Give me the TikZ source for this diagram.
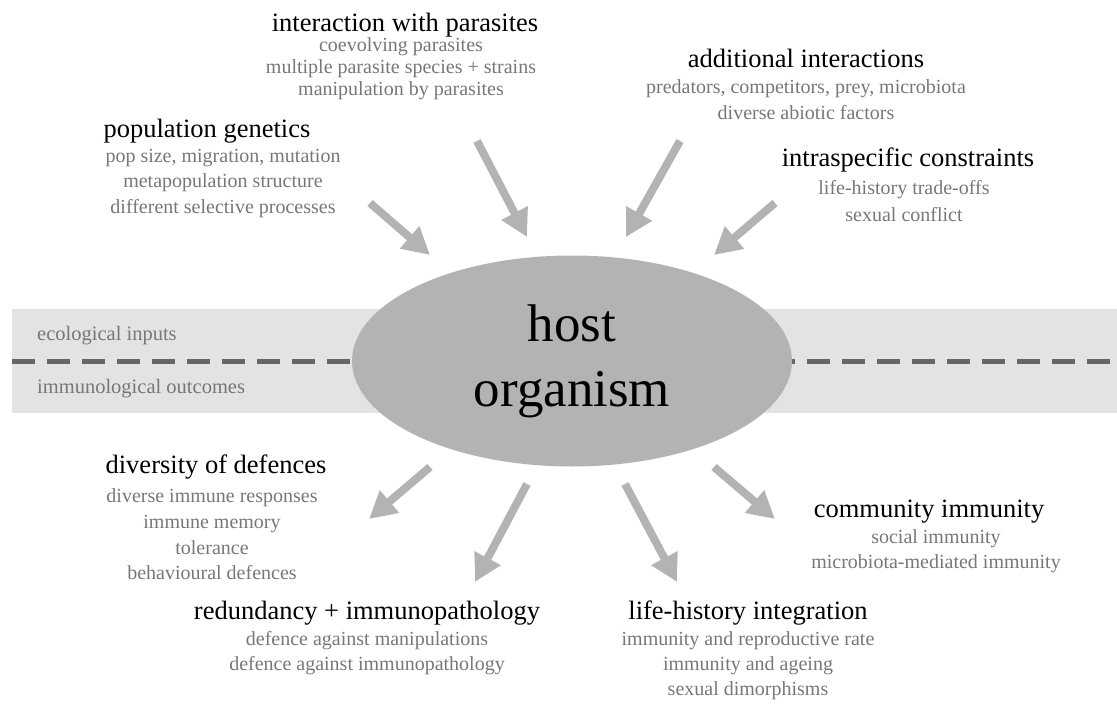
\documentclass[tikz,border=0pt]{standalone}
\usepackage{fontspec}
\setmainfont{Liberation Serif}
\usetikzlibrary{arrows.meta,shapes.geometric}
\definecolor{arrowgray}{HTML}{B3B3B3}
\definecolor{bandgray}{HTML}{E3E3E3}
\definecolor{dashgray}{HTML}{666666}
\definecolor{subgray}{HTML}{777777}
\begin{document}
\begin{tikzpicture}[x=1pt,y=-1pt,
  titletext/.style={font=\fontsize{26.5}{30}\selectfont, text=black, inner sep=0pt},
  subtext/.style={font=\fontsize{20}{#1}\selectfont, text=subgray, align=center, inner sep=0pt},
  subtext/.default=25.5,
  bandtext/.style={font=\fontsize{20.5}{24}\selectfont, text=subgray, inner sep=0pt, anchor=west},
  flow/.style={line width=8pt, draw=arrowgray, -{Triangle[length=27pt,width=28pt]}},
  divider/.style={line width=5pt, draw=dashgray, dash pattern=on 23pt off 12pt}]
\useasboundingbox (0,0) rectangle (1117,704);
% band
\fill[bandgray] (12,309) rectangle (1117,413);
\coordinate (dL1) at (12,361);
\coordinate (dL2) at (352,361);
\coordinate (dR1) at (1110,361);
\coordinate (dR2) at (792,361);
\draw[divider] (dL1) -- (dL2);
\draw[divider] (dR1) -- (dR2);
\node[bandtext] (eco) at (37,336) {ecological inputs};
\node[bandtext] (imm) at (37,389) {immunological outcomes};
% host
\node[ellipse, fill=arrowgray, minimum width=440pt, minimum height=211pt, inner sep=0pt,
      font=\fontsize{53}{65}\selectfont, align=center] (host) at (572,361) {host\\organism};
% texts
\node[titletext] (parT) at (405,25) {interaction with parasites};
\node[subtext=22] (parS) at (401,68.5) {coevolving parasites\\multiple parasite species + strains\\manipulation by parasites};
\node[titletext] (addT) at (806,58) {additional interactions};
\node[subtext=26] (addS) at (806,100) {predators, competitors, prey, microbiota\\diverse abiotic factors};
\node[titletext] (popT) at (207,131) {population genetics};
\node[subtext] (popS) at (223,183.5) {pop size, migration, mutation\\metapopulation structure\\different selective processes};
\node[titletext] (intT) at (908,160) {intraspecific constraints};
\node[subtext=27] (intS) at (904,201.5) {life-history trade-offs\\sexual conflict};
\node[titletext] (divT) at (216,467) {diversity of defences};
\node[subtext=25.7] (divS) at (212,534.5) {diverse immune responses\\immune memory\\tolerance\\behavioural defences};
\node[titletext] (comT) at (929,512) {community immunity};
\node[subtext=25] (comS) at (936,551.5) {social immunity\\microbiota-mediated immunity};
\node[titletext] (redT) at (367,613) {redundancy + immunopathology};
\node[subtext=25] (redS) at (367,653.5) {defence against manipulations\\defence against immunopathology};
\node[titletext] (lifT) at (748,613) {life-history integration};
\node[subtext=25] (lifS) at (748,666) {immunity and reproductive rate\\immunity and ageing\\sexual dimorphisms};
% arrow endpoints
\coordinate (a1s) at (370,203); \coordinate (a1e) at (430,255);
\coordinate (a2s) at (477,141); \coordinate (a2e) at (527,237);
\coordinate (a3s) at (680,141); \coordinate (a3e) at (626,237);
\coordinate (a4s) at (775,203); \coordinate (a4e) at (714,255);
\coordinate (a5s) at (430,467); \coordinate (a5e) at (369,519);
\coordinate (a6s) at (527,484); \coordinate (a6e) at (475,582);
\coordinate (a7s) at (625,484); \coordinate (a7e) at (677,582);
\coordinate (a8s) at (714,467); \coordinate (a8e) at (775,519);
\foreach \i in {1,...,8} { \draw[flow] (a\i s) -- (a\i e); }
\end{tikzpicture}
\end{document}
